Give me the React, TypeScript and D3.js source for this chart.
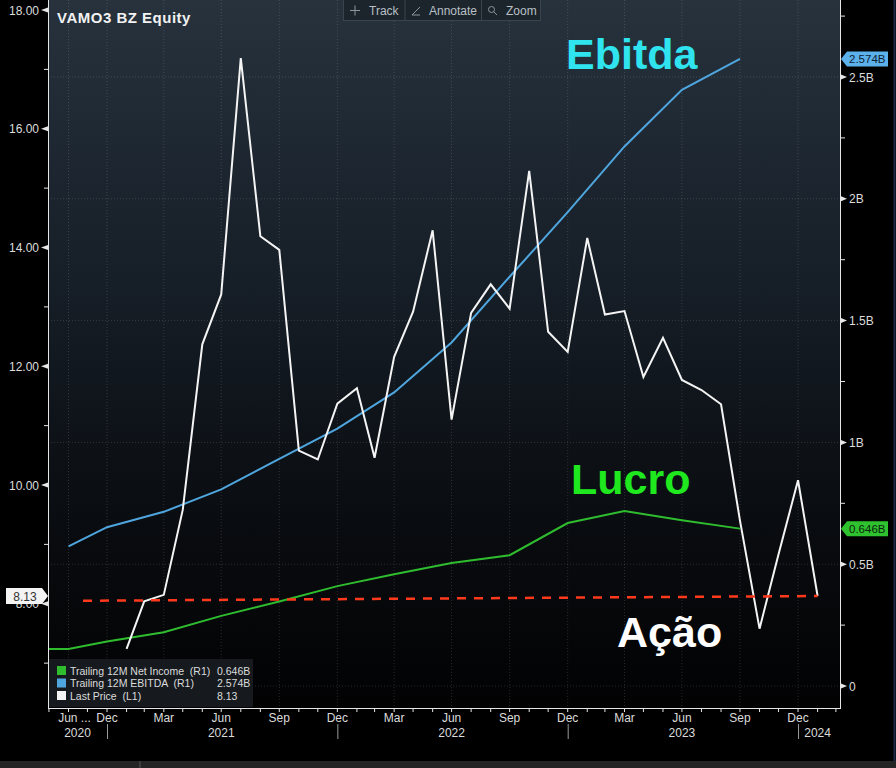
import React, { useEffect, useRef } from 'react';
import * as d3 from 'd3';

// Last price (L1), month-end closes
const priceMonths = [
  '2021-01', '2021-02', '2021-03', '2021-04', '2021-05', '2021-06', '2021-07', '2021-08', '2021-09',
  '2021-10', '2021-11', '2021-12', '2022-01', '2022-02', '2022-03', '2022-04', '2022-05', '2022-06',
  '2022-07', '2022-08', '2022-09', '2022-10', '2022-11', '2022-12', '2023-01', '2023-02', '2023-03',
  '2023-04', '2023-05', '2023-06', '2023-07', '2023-08', '2023-09', '2023-10', '2023-11', '2023-12',
  '2024-01',
];
const lastPrice = [
  7.24, 8.04, 8.15, 9.58, 12.37, 13.21, 17.19, 14.19, 13.96,
  10.58, 10.43, 11.37, 11.63, 10.46, 12.16, 12.92, 14.29, 11.1,
  12.9, 13.38, 12.97, 15.29, 12.58, 12.24, 14.16, 12.87, 12.93,
  11.82, 12.48, 11.77, 11.6, 11.36, 9.4, 7.58, 8.83, 10.08,
  8.13,
];

// trailing 12M figures (R1, billions)
const finMonths = [
  '2020-09', '2020-10', '2020-12', '2021-03', '2021-06', '2021-09', '2021-12',
  '2022-03', '2022-06', '2022-09', '2022-12', '2023-03', '2023-06', '2023-09',
];
const netIncome = [0.152, 0.152, 0.183, 0.221, 0.288, 0.347, 0.41, 0.459, 0.505, 0.537, 0.669, 0.718, 0.68, 0.646];
const ebitda = [null, 0.573, 0.652, 0.715, 0.807, 0.932, 1.057, 1.205, 1.41, 1.68, 1.945, 2.215, 2.447, 2.574];

// dashed level line drawn on the price
const trendDays = ['2020-11-23', '2024-01-31'];
const trendLevels = [8.05, 8.13];

const leftTicks = [8, 10, 12, 14, 16, 18];
const leftMinor = [7, 9, 11, 13, 15, 17];
const rightTicks = [0, 0.5, 1, 1.5, 2, 2.5];
const rightLabels = ['0', '0.5B', '1B', '1.5B', '2B', '2.5B'];
const rightMinor = [0.25, 0.75, 1.25, 1.75, 2.25, 2.75];

const labelMonths = ['2020-10', '2020-12', '2021-03', '2021-06', '2021-09', '2021-12', '2022-03', '2022-06',
  '2022-09', '2022-12', '2023-03', '2023-06', '2023-09', '2023-12'];
const labelTexts = ['Jun ...', 'Dec', 'Mar', 'Jun', 'Sep', 'Dec', 'Mar', 'Jun', 'Sep', 'Dec', 'Mar', 'Jun', 'Sep', 'Dec'];
const yearMonths = ['2020-10', '2021-06', '2022-06', '2023-06', '2024-01'];
const yearTexts = ['2020', '2021', '2022', '2023', '2024'];
const yearBreaks = ['2020-12', '2021-12', '2022-12', '2023-12'];

const legendNames = ['Trailing 12M Net Income  (R1)', 'Trailing 12M EBITDA  (R1)', 'Last Price  (L1)'];
const legendValues = ['0.646B', '2.574B', '8.13'];

const COLORS = { income: '#2fbd2f', ebitda: '#4fa6de', price: '#f4f4f4', trend: '#ff3a1c' };
const FONT = '"Liberation Sans", Arial, sans-serif';

const monthEnd = (s: string) => {
  const [y, m] = s.split('-').map(Number);
  return new Date(Date.UTC(y, m, 0));
};
const day = (s: string) => new Date(s + 'T00:00:00Z');

function App() {
  const svgRef = useRef<SVGSVGElement>(null);

  useEffect(() => {
    const W = 896, H = 768;
    const L = 48, R = 840, T = 0, B = 708;
    const svg = d3.select(svgRef.current);
    svg.selectAll('*').remove();

    const x = d3.scaleUtc()
      .domain([new Date(Date.UTC(2020, 8, 28, 12)), new Date(Date.UTC(2024, 2, 6, 12))])
      .range([L, R]);
    const yL = d3.scaleLinear().domain([10, 18]).range([485, 10]);
    const yR = d3.scaleLinear().domain([0, 2.5]).range([686, 77]);

    const defs = svg.append('defs');
    const grad = defs.append('linearGradient').attr('id', 'bg').attr('x1', 0).attr('y1', 0).attr('x2', 0).attr('y2', 1);
    grad.append('stop').attr('offset', '0%').attr('stop-color', '#27323d');
    grad.append('stop').attr('offset', '40%').attr('stop-color', '#161e27');
    grad.append('stop').attr('offset', '72%').attr('stop-color', '#0a0d11');
    grad.append('stop').attr('offset', '100%').attr('stop-color', '#020203');
    defs.append('clipPath').attr('id', 'plot').append('rect')
      .attr('x', L).attr('y', T).attr('width', R - L).attr('height', B - T);

    svg.append('rect').attr('width', W).attr('height', H).attr('fill', '#000');
    svg.append('rect').attr('x', L).attr('y', T).attr('width', R - L).attr('height', B - T).attr('fill', 'url(#bg)');
    svg.append('rect').attr('x', 0).attr('y', 761).attr('width', W).attr('height', 7).attr('fill', '#242424');
    svg.append('line').attr('x1', 140).attr('x2', 140).attr('y1', 761).attr('y2', 768).attr('stroke', '#555');
    svg.append('line').attr('x1', 894.5).attr('x2', 894.5).attr('y1', 0).attr('y2', 761).attr('stroke', '#1b2a48').attr('stroke-width', 2);

    // grid
    const grid = svg.append('g').attr('stroke', 'rgba(255,255,255,0.14)').attr('stroke-dasharray', '1,2');
    grid.selectAll('line.v').data(labelMonths).join('line')
      .attr('x1', (d) => x(monthEnd(d))).attr('x2', (d) => x(monthEnd(d)))
      .attr('y1', T).attr('y2', B);
    grid.selectAll('line.h').data(rightTicks).join('line')
      .attr('x1', L).attr('x2', R).attr('y1', (d) => yR(d)).attr('y2', (d) => yR(d));

    const plot = svg.append('g').attr('clip-path', 'url(#plot)');

    const finData = finMonths.map((m, i) => ({ date: monthEnd(m), income: netIncome[i], ebitda: ebitda[i] }));
    plot.append('path').datum(finData)
      .attr('fill', 'none').attr('stroke', COLORS.income).attr('stroke-width', 2)
      .attr('d', d3.line<any>().x((d) => x(d.date)).y((d) => yR(d.income)));
    plot.append('path').datum(finData)
      .attr('fill', 'none').attr('stroke', COLORS.ebitda).attr('stroke-width', 2)
      .attr('d', d3.line<any>().defined((d) => d.ebitda != null).x((d) => x(d.date)).y((d) => yR(d.ebitda)));

    const priceData = priceMonths.map((m, i) => ({ date: monthEnd(m), v: lastPrice[i] }));
    plot.append('path').datum(priceData)
      .attr('fill', 'none').attr('stroke', COLORS.price).attr('stroke-width', 2).attr('stroke-linejoin', 'miter')
      .attr('d', d3.line<any>().x((d) => x(d.date)).y((d) => yL(d.v)));

    const trendData = trendDays.map((d, i) => ({ date: day(d), v: trendLevels[i] }));
    plot.append('path').datum(trendData)
      .attr('fill', 'none').attr('stroke', COLORS.trend).attr('stroke-width', 2.5).attr('stroke-dasharray', '9,8')
      .attr('d', d3.line<any>().x((d) => x(d.date)).y((d) => yL(d.v)));

    // axes
    const axisCol = '#e6e6e6';
    const textCol = '#dcdcdc';
    svg.append('line').attr('x1', L + 0.5).attr('x2', L + 0.5).attr('y1', 0).attr('y2', B).attr('stroke', axisCol);
    svg.append('line').attr('x1', R + 0.5).attr('x2', R + 0.5).attr('y1', 0).attr('y2', B).attr('stroke', axisCol);
    svg.append('line').attr('x1', L).attr('x2', R + 1).attr('y1', B + 0.5).attr('y2', B + 0.5).attr('stroke', axisCol);

    const left = svg.append('g');
    left.selectAll('text').data(leftTicks).join('text')
      .attr('x', 39).attr('y', (d) => yL(d) + 4.5).attr('text-anchor', 'end')
      .attr('fill', textCol).style('font', `12px ${FONT}`).text((d) => d.toFixed(2));
    left.selectAll('path').data(leftTicks).join('path')
      .attr('d', (d) => `M41,${yL(d)}L48,${yL(d) - 2.5}L48,${yL(d) + 2.5}Z`).attr('fill', axisCol);
    left.selectAll('line').data(leftMinor).join('line')
      .attr('x1', 44).attr('x2', 48).attr('y1', (d) => yL(d)).attr('y2', (d) => yL(d)).attr('stroke', axisCol);

    const right = svg.append('g');
    right.selectAll('text').data(rightTicks).join('text')
      .attr('x', 849).attr('y', (d) => yR(d) + 4.5)
      .attr('fill', textCol).style('font', `12px ${FONT}`).text((d, i) => rightLabels[i]);
    right.selectAll('path').data(rightTicks).join('path')
      .attr('d', (d) => `M841,${yR(d) - 2.5}L847,${yR(d)}L841,${yR(d) + 2.5}Z`).attr('fill', axisCol);
    right.selectAll('line').data(rightMinor).join('line')
      .attr('x1', 841).attr('x2', 845).attr('y1', (d) => yR(d)).attr('y2', (d) => yR(d)).attr('stroke', axisCol);

    // x axis
    const monthTicks = d3.utcMonth.range(new Date(Date.UTC(2020, 9, 1)), new Date(Date.UTC(2024, 2, 2)))
      .map((d) => d3.utcDay.offset(d, -1));
    svg.append('g').selectAll('line').data(monthTicks).join('line')
      .attr('x1', (d) => x(d)).attr('x2', (d) => x(d)).attr('y1', B).attr('y2', B + 4).attr('stroke', axisCol);
    svg.append('g').selectAll('text').data(labelMonths).join('text')
      .attr('x', (d, i) => x(monthEnd(d)) + (labelTexts[i].includes('...') ? 6 : 0))
      .attr('y', 722).attr('text-anchor', 'middle')
      .attr('fill', textCol).style('font', `12px ${FONT}`).text((d, i) => labelTexts[i]);
    svg.append('g').selectAll('text').data(yearMonths).join('text')
      .attr('x', (d, i) => x(monthEnd(d)) + (i === 0 ? 9 : 0))
      .attr('y', 737).attr('text-anchor', 'middle')
      .attr('fill', textCol).style('font', `12px ${FONT}`).text((d, i) => yearTexts[i]);
    svg.append('g').selectAll('line').data(yearBreaks).join('line')
      .attr('x1', (d) => x(monthEnd(d)) + 0.5).attr('x2', (d) => x(monthEnd(d)) + 0.5)
      .attr('y1', 724).attr('y2', 739).attr('stroke', '#9a9a9a');

    // last-value flags
    const flag = (side: 'left' | 'right', yv: number, fill: string, label: string, col: string) => {
      if (side === 'left') {
        svg.append('path').attr('d', `M6,${yv - 8}H42L48,${yv}L42,${yv + 8}H6Z`).attr('fill', fill);
        svg.append('text').attr('x', 25).attr('y', yv + 4.5).attr('text-anchor', 'middle')
          .attr('fill', col).style('font', `12px ${FONT}`).text(label);
      } else {
        svg.append('path').attr('d', `M841,${yv}L847,${yv - 7.5}H888V${yv + 7.5}H847Z`).attr('fill', fill);
        svg.append('text').attr('x', 849).attr('y', yv + 4).attr('fill', col)
          .style('font', `11.5px ${FONT}`).text(label);
      }
    };
    flag('left', yL(lastPrice[lastPrice.length - 1]), '#f4f4f4', legendValues[2], '#333');
    flag('right', yR(ebitda[ebitda.length - 1] as number), '#5db1ea', legendValues[1], '#0c2236');
    flag('right', yR(netIncome[netIncome.length - 1]), '#2fc22f', legendValues[0], '#0b250b');

    // title
    svg.append('text').attr('x', 57).attr('y', 23).attr('fill', '#f2f2f2')
      .style('font', `bold 15px ${FONT}`).style('letter-spacing', '0.5px').text('VAMO3 BZ Equity');

    // toolbar
    const tb = svg.append('g');
    tb.append('rect').attr('x', 343.5).attr('y', -1).attr('width', 197).attr('height', 21.5)
      .attr('fill', '#1c242c').attr('stroke', '#3a444e');
    [405, 481.5].forEach((d) => tb.append('line').attr('x1', d).attr('x2', d).attr('y1', 0).attr('y2', 20).attr('stroke', '#3a444e'));
    const tbText = ['Track', 'Annotate', 'Zoom'];
    const tbX = [369, 429, 506];
    tbText.forEach((t, i) => tb.append('text').attr('x', tbX[i]).attr('y', 15).attr('fill', '#b9c0c6')
      .style('font', `12px ${FONT}`).text(t));
    const ic = tb.append('g').attr('stroke', '#8d969e').attr('fill', 'none').attr('stroke-width', 1);
    ic.append('path').attr('d', 'M350,10.5H360M355,5.5V15.5');
    ic.append('path').attr('d', 'M412,15L420,7M412,15H420');
    ic.append('circle').attr('cx', 491.5).attr('cy', 9.5).attr('r', 3);
    ic.append('path').attr('d', 'M493.8,11.8L497,15');

    // legend
    const lg = svg.append('g');
    lg.append('rect').attr('x', 49).attr('y', 659).attr('width', 204).attr('height', 48).attr('fill', 'rgba(24,28,34,0.92)');
    const swatches = [COLORS.income, COLORS.ebitda, COLORS.price];
    legendNames.forEach((n, i) => {
      const cy = 670.5 + i * 12.5;
      lg.append('rect').attr('x', 57).attr('y', cy - 4.5).attr('width', 9).attr('height', 9).attr('fill', swatches[i]);
      lg.append('text').attr('x', 70).attr('y', cy + 4).attr('fill', textCol)
        .style('font', `10.5px ${FONT}`).style('white-space', 'pre').text(n);
      lg.append('text').attr('x', 217).attr('y', cy + 4).attr('fill', textCol)
        .style('font', `10.5px ${FONT}`).text(legendValues[i]);
    });

    // annotations
    const big = `bold 43px ${FONT}`;
    svg.append('text').attr('x', 566).attr('y', 69).attr('fill', '#2fe3ef').style('font', big).text('Ebitda');
    svg.append('text').attr('x', 571).attr('y', 494).attr('fill', '#1fe81f').style('font', big).text('Lucro');
    svg.append('text').attr('x', 617).attr('y', 647).attr('fill', '#ffffff').style('font', big).text('Ação');
  }, []);

  return (
    <div style={{ width: 896, height: 768, background: '#000' }}>
      <style>{'body{margin:0;background:#000}'}</style>
      <svg ref={svgRef} width={896} height={768} style={{ display: 'block' }} />
    </div>
  );
}

export default App;
